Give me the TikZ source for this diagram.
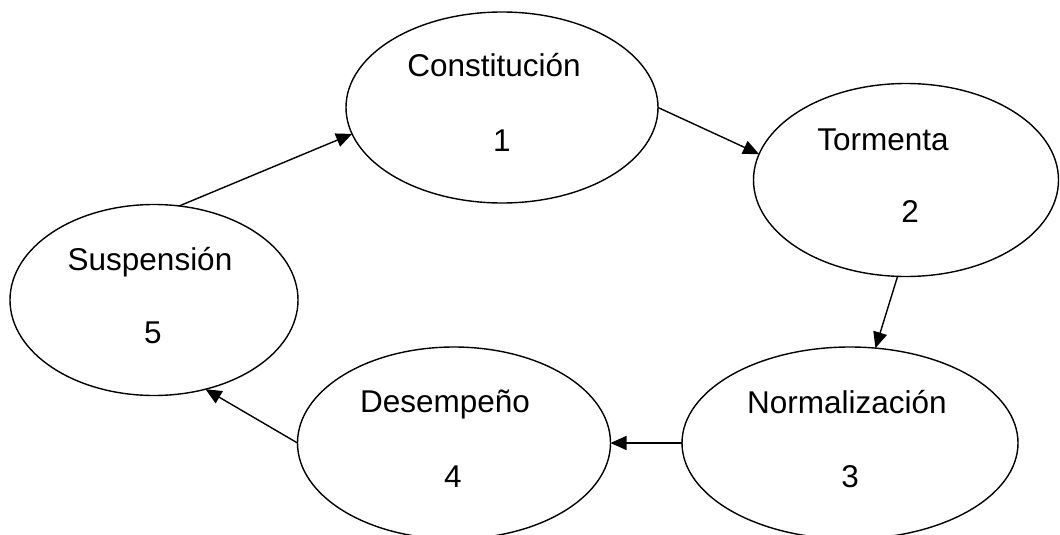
\documentclass[tikz,border=0pt]{standalone}
\usepackage{fontspec}
\setmainfont{Liberation Sans}
\usetikzlibrary{shapes.geometric,arrows.meta}
\begin{document}
\begin{tikzpicture}[x=1pt,y=-1pt,
  stage/.style={draw=black,line width=1.4pt,ellipse,inner sep=0pt,outer sep=0pt},
  lbl/.style={anchor=base,inner sep=0pt,font=\fontsize{31.5}{36}\selectfont},
  link/.style={draw=black,line width=1.4pt,-{Triangle[length=16pt,width=14pt]}}]
\useasboundingbox (0,0) rectangle (1060,535);
\node[stage,minimum width=312pt,minimum height=191pt] (e1) at (502,107.5) {};
\node[stage,minimum width=305pt,minimum height=193pt] (e2) at (906,180) {};
\node[stage,minimum width=336pt,minimum height=192pt] (e3) at (850,443) {};
\node[stage,minimum width=313pt,minimum height=192pt] (e4) at (454,443) {};
\node[stage,minimum width=288pt,minimum height=191pt] (e5) at (154,300) {};
\node[lbl] (t1) at (494,77) {Constitución};
\node[lbl] (n1) at (502,151) {1};
\node[lbl] (t2) at (883,150) {Tormenta};
\node[lbl] (n2) at (910,222) {2};
\node[lbl] (t3) at (847,413) {Normalización};
\node[lbl] (n3) at (850,487) {3};
\node[lbl] (t4) at (445,412.5) {Desempeño};
\node[lbl] (n4) at (453,487) {4};
\node[lbl] (t5) at (150,270) {Suspensión};
\node[lbl] (n5) at (153,343) {5};
\draw[link] (e1.east) -- (e2.170);
\draw[link] (e2.265) -- (e3.75);
\draw[link] (e3.west) -- (e4.east);
\draw[link] (e4.west) -- (e5.300);
\draw[link] (e5.75) -- (e1.190);
\end{tikzpicture}
\end{document}
